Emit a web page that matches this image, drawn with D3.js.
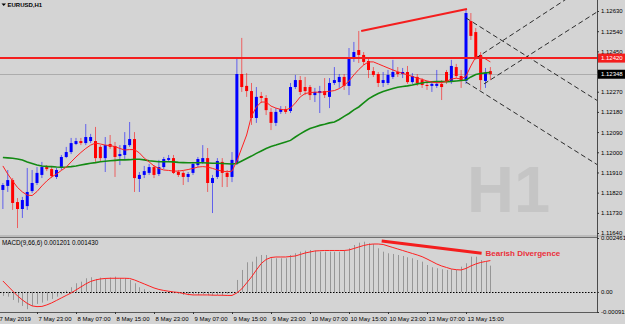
<!DOCTYPE html>
<html>
<head>
<meta charset="utf-8">
<title>EURUSD,H1</title>
<script src="https://cdn.jsdelivr.net/npm/d3@7/dist/d3.min.js"></script>
<style>
  html, body { margin: 0; padding: 0; background: #d4d4d4; overflow: hidden; }
  #main { width: 625px; height: 324px; }
  svg { display: block; font-family: 'Liberation Sans', Arial, sans-serif; }
</style>
</head>
<body>
<div id="main"></div>
<script>
// EURUSD H1, one entry per bar: 7 May 16:00 .. 13 May 20:00
const opens = [
  1.11832, 1.11850, 1.11876, 1.11778, 1.11747, 1.11760, 1.11827, 1.11863, 1.11899, 1.11934,
  1.11925, 1.11890, 1.11930, 1.11979, 1.12001, 1.12037, 1.12050, 1.12041, 1.12050, 1.12050,
  1.12024, 1.11974, 1.12037, 1.12028, 1.11983, 1.11988, 1.12032, 1.12059, 1.11881, 1.11899,
  1.11908, 1.11934, 1.11903, 1.11934, 1.11966, 1.11974, 1.11912, 1.11908, 1.11890, 1.11908,
  1.11943, 1.11957, 1.11974, 1.11863, 1.11890, 1.11957, 1.11908, 1.11890, 1.11952, 1.12349,
  1.12296, 1.12273, 1.12153, 1.12251, 1.12242, 1.12180, 1.12131, 1.12180, 1.12193, 1.12184,
  1.12291, 1.12322, 1.12291, 1.12291, 1.12255, 1.12264, 1.12273, 1.12247, 1.12309, 1.12313,
  1.12336, 1.12296, 1.12420, 1.12456, 1.12434, 1.12407, 1.12362, 1.12349, 1.12309, 1.12309,
  1.12336, 1.12358, 1.12349, 1.12358, 1.12313, 1.12336, 1.12322, 1.12300, 1.12296, 1.12296,
  1.12305, 1.12358, 1.12318, 1.12380, 1.12340, 1.12318, 1.12585, 1.12536, 1.12434, 1.12318,
  1.12362,
];
const highs = [
  1.11863, 1.11921, 1.11885, 1.11796, 1.11801, 1.11930, 1.11921, 1.11934, 1.11957, 1.11943,
  1.11934, 1.11930, 1.11988, 1.12024, 1.12064, 1.12064, 1.12064, 1.12126, 1.12082, 1.12113,
  1.12032, 1.12068, 1.12077, 1.12046, 1.12032, 1.12090, 1.12135, 1.12090, 1.11912, 1.11939,
  1.11948, 1.11943, 1.11966, 1.11979, 1.11988, 1.11988, 1.11921, 1.11916, 1.11912, 1.11957,
  1.11979, 1.12032, 1.12019, 1.11899, 1.11974, 1.11974, 1.11921, 1.12001, 1.12420, 1.12510,
  1.12353, 1.12309, 1.12291, 1.12269, 1.12255, 1.12197, 1.12197, 1.12206, 1.12206, 1.12309,
  1.12345, 1.12340, 1.12336, 1.12300, 1.12287, 1.12296, 1.12331, 1.12331, 1.12380, 1.12349,
  1.12349, 1.12465, 1.12492, 1.12541, 1.12447, 1.12420, 1.12380, 1.12358, 1.12358, 1.12367,
  1.12412, 1.12380, 1.12376, 1.12385, 1.12353, 1.12349, 1.12331, 1.12313, 1.12313, 1.12367,
  1.12322, 1.12367, 1.12412, 1.12394, 1.12367, 1.12635, 1.12621, 1.12554, 1.12447, 1.12376,
  1.12380,
];
const lows = [
  1.11747, 1.11823, 1.11743, 1.11662, 1.11707, 1.11743, 1.11818, 1.11854, 1.11885, 1.11916,
  1.11885, 1.11881, 1.11921, 1.11974, 1.11992, 1.12032, 1.12032, 1.12032, 1.12041, 1.11957,
  1.11957, 1.11912, 1.12015, 1.11890, 1.11943, 1.11966, 1.12024, 1.11823, 1.11823, 1.11885,
  1.11899, 1.11885, 1.11894, 1.11925, 1.11957, 1.11903, 1.11890, 1.11854, 1.11867, 1.11899,
  1.11934, 1.11948, 1.11823, 1.11729, 1.11881, 1.11845, 1.11845, 1.11867, 1.11943, 1.12269,
  1.12247, 1.12122, 1.12131, 1.12220, 1.12166, 1.12099, 1.12117, 1.12171, 1.12171, 1.12175,
  1.12282, 1.12255, 1.12255, 1.12233, 1.12224, 1.12175, 1.12242, 1.12197, 1.12300, 1.12287,
  1.12278, 1.12255, 1.12403, 1.12398, 1.12389, 1.12331, 1.12336, 1.12291, 1.12291, 1.12300,
  1.12327, 1.12336, 1.12331, 1.12305, 1.12305, 1.12296, 1.12287, 1.12278, 1.12269, 1.12287,
  1.12233, 1.12305, 1.12305, 1.12331, 1.12287, 1.12305, 1.12501, 1.12412, 1.12278, 1.12287,
  1.12322,
];
const closes = [
  1.11854, 1.11876, 1.11774, 1.11747, 1.11787, 1.11823, 1.11863, 1.11908, 1.11934, 1.11925,
  1.11894, 1.11921, 1.11979, 1.12001, 1.12041, 1.12050, 1.12041, 1.12068, 1.12068, 1.11974,
  1.11974, 1.12032, 1.12024, 1.11979, 1.11992, 1.12032, 1.12059, 1.11885, 1.11899, 1.11916,
  1.11934, 1.11899, 1.11934, 1.11970, 1.11974, 1.11908, 1.11899, 1.11890, 1.11903, 1.11948,
  1.11970, 1.11974, 1.11863, 1.11885, 1.11961, 1.11908, 1.11890, 1.11966, 1.12349, 1.12291,
  1.12273, 1.12153, 1.12247, 1.12242, 1.12188, 1.12131, 1.12180, 1.12193, 1.12180, 1.12291,
  1.12322, 1.12269, 1.12273, 1.12255, 1.12269, 1.12273, 1.12255, 1.12309, 1.12322, 1.12336,
  1.12296, 1.12420, 1.12447, 1.12434, 1.12403, 1.12367, 1.12345, 1.12309, 1.12322, 1.12345,
  1.12358, 1.12349, 1.12358, 1.12313, 1.12340, 1.12309, 1.12300, 1.12296, 1.12305, 1.12305,
  1.12291, 1.12313, 1.12385, 1.12340, 1.12318, 1.12621, 1.12519, 1.12425, 1.12322, 1.12353,
  1.12348,
];

// moving averages on the price window (red = fast, green = slow)
const maFast = [
  1.11939, 1.11903, 1.11872, 1.11843, 1.11823, 1.11809, 1.11807, 1.11825, 1.11850, 1.11872,
  1.11890, 1.11903, 1.11919, 1.11934, 1.11957, 1.11979, 1.11999, 1.12017, 1.12032, 1.12041,
  1.12037, 1.12032, 1.12030, 1.12025, 1.12017, 1.12010, 1.12012, 1.12012, 1.11997, 1.11974,
  1.11957, 1.11939, 1.11928, 1.11921, 1.11919, 1.11916, 1.11916, 1.11919, 1.11923, 1.11928,
  1.11934, 1.11936, 1.11934, 1.11928, 1.11921, 1.11916, 1.11913, 1.11916, 1.11961, 1.12019,
  1.12077, 1.12162, 1.12202, 1.12224, 1.12224, 1.12206, 1.12197, 1.12191, 1.12189, 1.12197,
  1.12220, 1.12247, 1.12262, 1.12266, 1.12268, 1.12268, 1.12269, 1.12272, 1.12275, 1.12284,
  1.12298, 1.12318, 1.12345, 1.12369, 1.12389, 1.12403, 1.12403, 1.12394, 1.12385, 1.12376,
  1.12367, 1.12359, 1.12352, 1.12345, 1.12338, 1.12331, 1.12325, 1.12318, 1.12313, 1.12310,
  1.12311, 1.12316, 1.12327, 1.12330, 1.12327, 1.12340, 1.12385, 1.12425, 1.12429, 1.12416,
  1.12403,
];
const maSlow = [
  1.11977, 1.11975, 1.11973, 1.11970, 1.11966, 1.11957, 1.11950, 1.11943, 1.11939, 1.11937,
  1.11936, 1.11934, 1.11933, 1.11934, 1.11936, 1.11939, 1.11943, 1.11947, 1.11951, 1.11954,
  1.11958, 1.11960, 1.11962, 1.11964, 1.11966, 1.11966, 1.11967, 1.11969, 1.11969, 1.11966,
  1.11962, 1.11960, 1.11958, 1.11958, 1.11958, 1.11957, 1.11955, 1.11954, 1.11953, 1.11953,
  1.11953, 1.11953, 1.11952, 1.11951, 1.11951, 1.11950, 1.11949, 1.11948, 1.11950, 1.11961,
  1.11972, 1.11983, 1.11995, 1.12006, 1.12017, 1.12026, 1.12032, 1.12039, 1.12046, 1.12053,
  1.12068, 1.12082, 1.12095, 1.12106, 1.12113, 1.12120, 1.12125, 1.12131, 1.12135, 1.12146,
  1.12160, 1.12173, 1.12189, 1.12202, 1.12220, 1.12238, 1.12251, 1.12262, 1.12271, 1.12278,
  1.12284, 1.12290, 1.12293, 1.12296, 1.12300, 1.12305, 1.12309, 1.12313, 1.12314, 1.12315,
  1.12315, 1.12315, 1.12316, 1.12318, 1.12320, 1.12322, 1.12336, 1.12347, 1.12351, 1.12354,
  1.12356,
];

// MACD(9,66,6): main drawn as histogram, signal as line
const macdMain = [
  -0.000182, -0.000214, -0.000365, -0.000488, -0.000638, -0.000788, -0.000638, -0.000547, -0.000488, -0.000396,
  -0.000319, -0.000214, -0.000105, 0.000059, 0.000214, 0.000396, 0.000469, 0.000624, 0.000670, 0.000592,
  0.000652, 0.000624, 0.000652, 0.000697, 0.000624, 0.000624, 0.000547, 0.000396, 0.000214, 0.000123,
  0.000032, -0.000014, 0.000000, -0.000032, -0.000059, -0.000059, -0.000091, -0.000137, -0.000150, -0.000091,
  -0.000137, -0.000105, -0.000150, -0.000169, -0.000137, -0.000169, -0.000091, 0.000010, 0.000547, 0.001003,
  0.001353, 0.001381, 0.001609, 0.001686, 0.001686, 0.001536, 0.001536, 0.001536, 0.001536, 0.001686,
  0.001764, 0.001837, 0.001882, 0.001914, 0.001882, 0.001837, 0.001837, 0.001837, 0.001837, 0.001837,
  0.001882, 0.001991, 0.002142, 0.002247, 0.002292, 0.002219, 0.002187, 0.001991, 0.001837, 0.001764,
  0.001732, 0.001686, 0.001641, 0.001581, 0.001536, 0.001458, 0.001381, 0.001230, 0.001126, 0.001080,
  0.001034, 0.001003, 0.001034, 0.001003, 0.001153, 0.001308, 0.001609, 0.001609, 0.001458, 0.001381,
  0.001201,
];
const macdSignal = [
  0.000501, 0.000273, 0.000046, -0.000182, -0.000365, -0.000524, -0.000638, -0.000670, -0.000661, -0.000592,
  -0.000501, -0.000387, -0.000273, -0.000159, -0.000046, 0.000091, 0.000228, 0.000365, 0.000478, 0.000547,
  0.000592, 0.000615, 0.000624, 0.000624, 0.000624, 0.000624, 0.000615, 0.000547, 0.000456, 0.000365,
  0.000273, 0.000182, 0.000114, 0.000068, 0.000032, 0.000000, -0.000023, -0.000068, -0.000114, -0.000137,
  -0.000137, -0.000137, -0.000137, -0.000146, -0.000150, -0.000150, -0.000159, -0.000159, -0.000046, 0.000137,
  0.000410, 0.000684, 0.001003, 0.001299, 0.001481, 0.001572, 0.001595, 0.001595, 0.001595, 0.001618,
  0.001641, 0.001709, 0.001777, 0.001823, 0.001868, 0.001882, 0.001891, 0.001891, 0.001891, 0.001891,
  0.001891, 0.001914, 0.001982, 0.002051, 0.002119, 0.002165, 0.002187, 0.002187, 0.002165, 0.002096,
  0.002028, 0.001960, 0.001891, 0.001823, 0.001754, 0.001686, 0.001609, 0.001504, 0.001390, 0.001276,
  0.001185, 0.001116, 0.001048, 0.001016, 0.001003, 0.001071, 0.001185, 0.001276, 0.001344, 0.001390,
  0.001430,
];

const priceTicks = [1.12630, 1.12540, 1.12450, 1.12360, 1.12270, 1.12180, 1.12090, 1.12000, 1.11910, 1.11820, 1.11730, 1.11640];
const macdTicks = [0.002461, 0, -0.000915];
const macdTickLabels = ['0.002461', '0.00', '-0.000915'];
const timeTickBars = [-1, 7, 15, 23, 31, 39, 47, 55, 63, 71, 79, 87, 95];
const timeTickLabels = ['7 May 2019', '7 May 23:00', '8 May 07:00', '8 May 15:00', '8 May 23:00', '9 May 07:00',
  '9 May 15:00', '9 May 23:00', '10 May 07:00', '10 May 15:00', '10 May 23:00', '13 May 07:00', '13 May 15:00'];

const levelPrice = 1.12420;
const bidPrice = 1.12348;
const macdValues = [0.001201, 0.001430];

// drawn objects, as [bar, value] pairs
const priceDivergence = [[73.5, 1.12541], [95.2, 1.12639]];
const macdDivergence = [[77.7, 0.002324], [98.2, 0.001763]];
const channelLines = [
  [[95, 1.12599], [121.9, 1.12231]],
  [[95, 1.12313], [121.9, 1.11945]],
  [[97.05, 1.12420], [121.9, 1.12773]],
  [[98.7, 1.12305], [121.9, 1.12626]],
];

/* Layout */
const width = 625;
const height = 324;
const plotRight = 597;
const mainBottom = 235;
const subTop = 237;
const subBottom = 312;

const x = d3.scaleLinear().domain([0, 100]).range([2.875, 490.375]);
const yPrice = d3.scaleLinear()
  .domain([priceTicks[priceTicks.length - 1], priceTicks[0]])
  .range([233, 11]);
const yMacd = d3.scaleLinear()
  .domain([macdTicks[2], macdTicks[0]])
  .range([subBottom, subTop + 1]);

const bg = '#d4d4d4';
const bull = '#0000ff';
const bear = '#ff0000';

const svg = d3.select('#main').append('svg')
  .attr('width', width)
  .attr('height', height);

svg.append('rect').attr('width', width).attr('height', height).attr('fill', bg);

const defs = svg.append('defs');
defs.append('clipPath').attr('id', 'clip-main')
  .append('rect').attr('width', plotRight).attr('height', mainBottom);
defs.append('clipPath').attr('id', 'clip-sub')
  .append('rect').attr('y', subTop).attr('width', plotRight).attr('height', subBottom - subTop);

/* Main window */
const main = svg.append('g').attr('clip-path', 'url(#clip-main)');

main.append('text')
  .attr('x', 467)
  .attr('y', 212)
  .attr('font-size', 65)
  .attr('font-weight', 'bold')
  .attr('fill', '#c5c5c5')
  .text('H1');

main.append('line')
  .attr('x1', 0).attr('x2', plotRight)
  .attr('y1', Math.round(yPrice(bidPrice)) + 0.5)
  .attr('y2', Math.round(yPrice(bidPrice)) + 0.5)
  .attr('stroke', '#acacac');

const bars = d3.range(opens.length).map((i) => ({
  i, o: opens[i], h: highs[i], l: lows[i], c: closes[i],
}));

const candle = main.selectAll('g.candle')
  .data(bars)
  .enter()
  .append('g')
  .attr('class', 'candle');

candle.append('line')
  .attr('x1', (d) => x(d.i))
  .attr('x2', (d) => x(d.i))
  .attr('y1', (d) => yPrice(d.h))
  .attr('y2', (d) => yPrice(d.l))
  .attr('stroke', (d) => (d.c >= d.o ? bull : bear))
  .attr('stroke-opacity', 0.55)
  .attr('stroke-width', 1);

candle.append('rect')
  .attr('x', (d) => x(d.i) - 1.5)
  .attr('width', 3)
  .attr('y', (d) => yPrice(Math.max(d.o, d.c)))
  .attr('height', (d) => Math.max(1, Math.abs(yPrice(d.o) - yPrice(d.c))))
  .attr('fill', (d) => (d.c >= d.o ? bull : bear));

const priceLine = d3.line()
  .x((d, i) => x(i))
  .y((d) => yPrice(d));

main.append('path')
  .datum(maSlow)
  .attr('d', priceLine)
  .attr('fill', 'none')
  .attr('stroke', '#138a13')
  .attr('stroke-width', 1.6);

main.append('path')
  .datum(maFast)
  .attr('d', priceLine)
  .attr('fill', 'none')
  .attr('stroke', '#ff2020')
  .attr('stroke-width', 1);

const pairLine = (yScale) => d3.line()
  .x((d) => x(d[0]))
  .y((d) => yScale(d[1]));

main.selectAll('path.channel')
  .data(channelLines)
  .enter()
  .append('path')
  .attr('class', 'channel')
  .attr('d', pairLine(yPrice))
  .attr('fill', 'none')
  .attr('stroke', '#1a1a1a')
  .attr('stroke-width', 0.9)
  .attr('stroke-dasharray', '5,3');

main.append('line')
  .attr('x1', 0).attr('x2', plotRight)
  .attr('y1', yPrice(levelPrice))
  .attr('y2', yPrice(levelPrice))
  .attr('stroke', '#f41e1e')
  .attr('stroke-width', 2);

main.append('path')
  .datum(priceDivergence)
  .attr('d', pairLine(yPrice))
  .attr('stroke', '#f41e1e')
  .attr('stroke-width', 2);

main.append('path')
  .attr('d', 'M1.5,3.5 L6,3.5 L3.75,6 Z')
  .attr('fill', '#000');

main.append('text')
  .attr('x', 7.5)
  .attr('y', 6.8)
  .attr('font-size', 6)
  .attr('font-weight', 'bold')
  .attr('fill', '#000')
  .text('EURUSD,H1');

/* MACD window */
const sub = svg.append('g').attr('clip-path', 'url(#clip-sub)');

sub.selectAll('line.hist')
  .data(macdMain)
  .enter()
  .append('line')
  .attr('class', 'hist')
  .attr('x1', (d, i) => Math.round(x(i)) + 0.5)
  .attr('x2', (d, i) => Math.round(x(i)) + 0.5)
  .attr('y1', yMacd(0))
  .attr('y2', (d) => yMacd(d))
  .attr('stroke', '#969696')
  .attr('stroke-width', 1);

sub.append('line')
  .attr('x1', 0).attr('x2', plotRight)
  .attr('y1', Math.round(yMacd(0)) + 0.5)
  .attr('y2', Math.round(yMacd(0)) + 0.5)
  .attr('stroke', '#000')
  .attr('stroke-dasharray', '1.5,1.5');

sub.append('path')
  .datum(macdSignal)
  .attr('d', d3.line().x((d, i) => x(i)).y((d) => yMacd(d)))
  .attr('fill', 'none')
  .attr('stroke', '#ff2020')
  .attr('stroke-width', 1);

sub.append('path')
  .datum(macdDivergence)
  .attr('d', pairLine(yMacd))
  .attr('stroke', '#f41e1e')
  .attr('stroke-width', 3);

sub.append('text')
  .attr('x', x(macdDivergence[1][0]) + 4)
  .attr('y', yMacd(macdDivergence[1][1]) + 3)
  .attr('font-size', 8)
  .attr('font-weight', 'bold')
  .attr('fill', '#ea2f3a')
  .text('Bearish Divergence');

sub.append('text')
  .attr('x', 2)
  .attr('y', 245)
  .attr('font-size', 6.3)
  .attr('fill', '#000')
  .text(`MACD(9,66,6) ${macdValues[0].toFixed(6)} ${macdValues[1].toFixed(6)}`);

/* Frames */
svg.append('rect')
  .attr('x', 0).attr('y', mainBottom)
  .attr('width', width).attr('height', subTop - mainBottom)
  .attr('fill', '#bcbcbc');
svg.append('line')
  .attr('x1', 0).attr('x2', plotRight)
  .attr('y1', subTop + 0.5).attr('y2', subTop + 0.5)
  .attr('stroke', '#6e6e6e');
svg.append('line')
  .attr('x1', 0).attr('x2', plotRight)
  .attr('y1', subBottom + 0.5).attr('y2', subBottom + 0.5)
  .attr('stroke', '#5a5a5a');
svg.append('line')
  .attr('x1', plotRight + 0.5).attr('x2', plotRight + 0.5)
  .attr('y1', 0).attr('y2', subBottom + 1)
  .attr('stroke', '#4a4a4a');

/* Axes */
const styleAxis = (g) => {
  g.attr('font-size', 6).attr('font-family', null);
  g.select('.domain').remove();
  g.selectAll('line').attr('stroke', '#333');
  g.selectAll('text').attr('fill', '#000');
};

svg.append('g')
  .attr('transform', `translate(${plotRight},0)`)
  .call(d3.axisRight(yPrice).tickValues(priceTicks).tickFormat(d3.format('.5f')).tickSize(2))
  .call(styleAxis)
  .call((g) => g.selectAll('text').attr('x', 4));

svg.append('g')
  .attr('transform', `translate(${plotRight},0)`)
  .call(d3.axisRight(yMacd).tickValues(macdTicks).tickFormat((d, i) => macdTickLabels[i]).tickSize(2))
  .call(styleAxis)
  .call((g) => g.selectAll('text').attr('x', 4));

svg.append('g')
  .attr('transform', `translate(0,${subBottom})`)
  .call(d3.axisBottom(x).tickValues(timeTickBars).tickFormat((d, i) => timeTickLabels[i]).tickSize(2))
  .call(styleAxis)
  .call((g) => g.selectAll('text').attr('text-anchor', 'start').attr('x', 1).attr('y', 5));

// current level and bid tags on the price scale
const tags = [
  { value: levelPrice, fill: '#f41e1e' },
  { value: bidPrice, fill: '#000' },
];
const tag = svg.selectAll('g.tag')
  .data(tags)
  .enter()
  .append('g')
  .attr('class', 'tag')
  .attr('transform', (d) => `translate(${plotRight + 1},${yPrice(d.value)})`);

tag.append('rect')
  .attr('y', -4.5)
  .attr('width', width - plotRight)
  .attr('height', 9)
  .attr('fill', (d) => d.fill);

tag.append('text')
  .attr('x', 3)
  .attr('dy', '0.34em')
  .attr('font-size', 6)
  .attr('fill', '#fff')
  .text((d) => d3.format('.5f')(d.value));
</script>
</body>
</html>
